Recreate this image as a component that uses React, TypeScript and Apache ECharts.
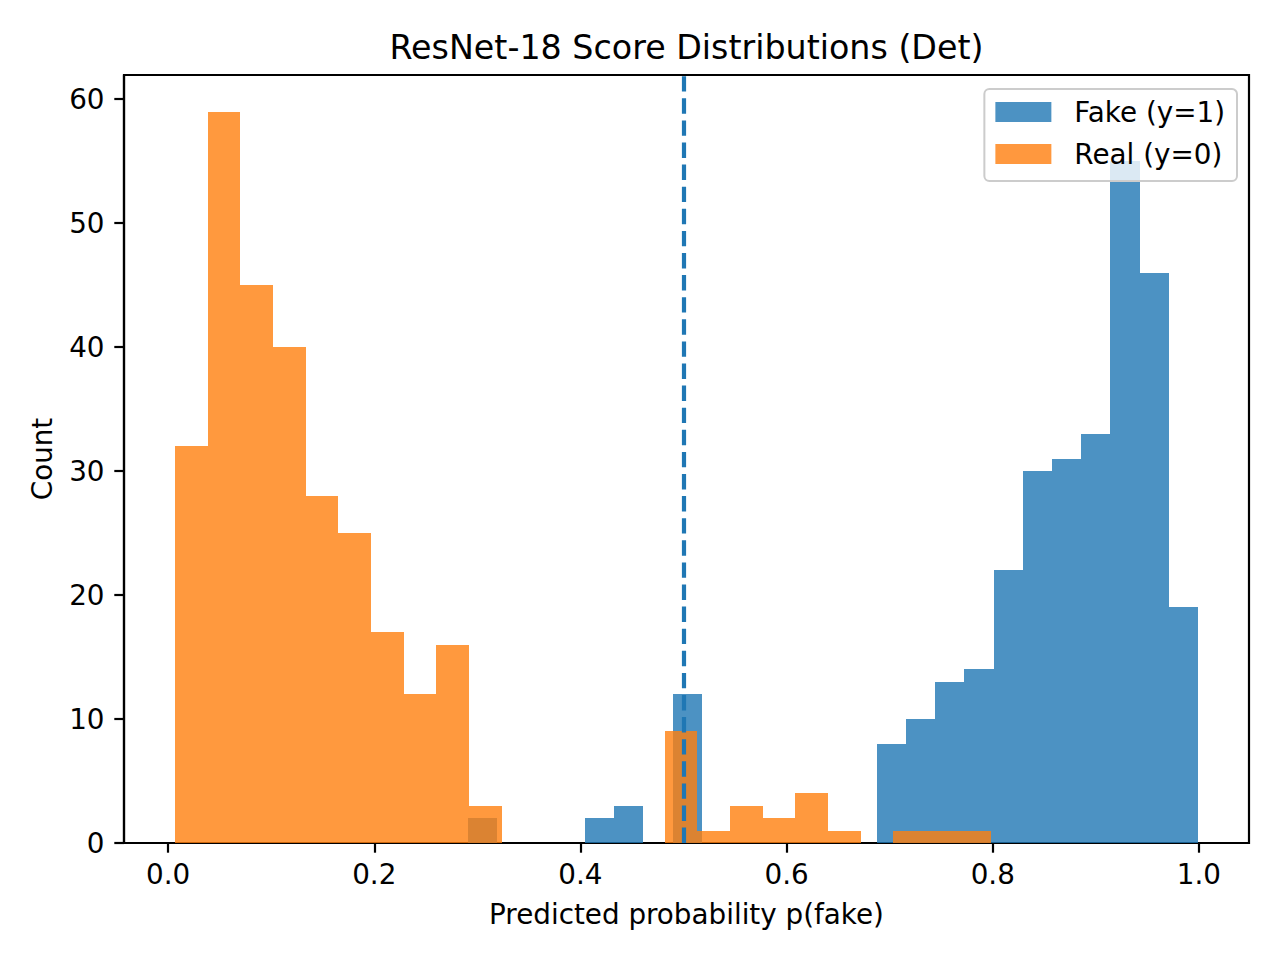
import React, { useEffect, useRef } from "react";
import * as echarts from "echarts";

// ---- data (histogram counts) ----
const fakeCounts = [2, 0, 0, 0, 2, 3, 0, 12, 0, 0, 0, 0, 0, 0, 8, 10, 13, 14, 22, 30, 31, 33, 55, 46, 19];
const realCounts = [32, 59, 45, 40, 28, 25, 17, 12, 16, 3, 0, 0, 0, 0, 0, 9, 1, 3, 2, 4, 1, 0, 1, 1, 1];
const fakeRange = [0.2912, 0.999];
const realRange = [0.0068, 0.7984];
const xTicks = [0, 0.2, 0.4, 0.6, 0.8, 1.0];
const yTicks = [0, 10, 20, 30, 40, 50, 60];
const threshold = 0.5;
const seriesNames = ["Fake (y=1)", "Real (y=0)"];
const xLimits = [-0.0428, 1.0486];
const yLimits = [0, 61.95];

const FONT = "DejaVu Sans";
const FS = 27.8;

function binsOf(counts: number[], range: number[]) {
  const n = counts.length;
  const w = (range[1] - range[0]) / n;
  return counts.map((c, i) => [range[0] + i * w, range[0] + (i + 1) * w, c]);
}

function makeRender(color: string) {
  return (params: any, api: any) => {
    const x0 = api.value(0);
    const x1 = api.value(1);
    const c = api.value(2);
    if (!c) return null;
    const p0 = api.coord([x0, c]);
    const p1 = api.coord([x1, 0]);
    const left = Math.round(p0[0]);
    const right = Math.round(p1[0]);
    const top = Math.round(p0[1]);
    const bottom = p1[1];
    return {
      type: "rect",
      shape: { x: left, y: top, width: right - left, height: bottom - top },
      style: { fill: color, opacity: 0.8 },
    };
  };
}

export default function App() {
  const ref = useRef<HTMLDivElement>(null);
  useEffect(() => {
    if (!ref.current) return;
    const chart = echarts.init(ref.current, undefined, { renderer: "svg" });
    const option: any = {
      animation: false,
      backgroundColor: "#ffffff",
      textStyle: { fontFamily: FONT, color: "#000" },
      title: {
        text: "ResNet-18 Score Distributions (Det)",
        left: 686.5,
        textAlign: "center",
        top: 31,
        padding: 0,
        textStyle: { fontFamily: FONT, fontSize: 33.3, fontWeight: "normal", color: "#000" },
      },
      grid: {
        left: 124,
        right: 31,
        top: 75,
        bottom: 117,
        show: true,
        borderColor: "#000",
        borderWidth: 2.2,
        backgroundColor: "transparent",
      },
      legend: {
        orient: "vertical",
        right: 43,
        top: 89,
        padding: [9, 12, 13, 11],
        itemGap: 14,
        itemWidth: 56,
        itemHeight: 20,
        icon: "rect",
        selectedMode: false,
        backgroundColor: "rgba(255,255,255,0.8)",
        borderColor: "#cccccc",
        borderWidth: 2,
        borderRadius: 5,
        textStyle: {
          fontFamily: FONT,
          fontSize: FS,
          color: "#000",
          lineHeight: 28,
          padding: [0, 0, 0, 18],
        },
        data: [
          { name: seriesNames[0], itemStyle: { color: "#4c92c3", opacity: 1 } },
          { name: seriesNames[1], itemStyle: { color: "#ff983e", opacity: 1 } },
        ],
      },
      xAxis: {
        type: "value",
        min: xLimits[0],
        max: xLimits[1],
        name: "Predicted probability p(fake)",
        nameLocation: "middle",
        nameGap: 57,
        nameTextStyle: { fontFamily: FONT, fontSize: FS, color: "#000" },
        axisLine: { show: true, onZero: false, lineStyle: { color: "#000", width: 2.2 } },
        axisTick: { show: true, length: 9.7, lineStyle: { color: "#000", width: 2.2 }, customValues: xTicks },
        axisLabel: {
          customValues: xTicks,
          formatter: (v: number) => v.toFixed(1),
          fontFamily: FONT,
          fontSize: FS,
          color: "#000",
          margin: 17,
        },
        splitLine: { show: false },
      },
      yAxis: {
        type: "value",
        min: yLimits[0],
        max: yLimits[1],
        name: "Count",
        nameLocation: "middle",
        nameGap: 68,
        nameTextStyle: { fontFamily: FONT, fontSize: FS, color: "#000" },
        axisLine: { show: true, onZero: false, lineStyle: { color: "#000", width: 2.2 } },
        axisTick: { show: true, length: 9.7, lineStyle: { color: "#000", width: 2.2 }, customValues: yTicks },
        axisLabel: {
          customValues: yTicks,
          formatter: (v: number) => String(v),
          fontFamily: FONT,
          fontSize: FS,
          color: "#000",
          margin: 19.5,
        },
        splitLine: { show: false },
      },
      series: [
        {
          name: seriesNames[0],
          type: "custom",
          renderItem: makeRender("#1f77b4"),
          itemStyle: { color: "#4c92c3" },
          encode: { x: [0, 1], y: 2 },
          data: binsOf(fakeCounts, fakeRange),
          z: 2,
        },
        {
          name: seriesNames[1],
          type: "custom",
          renderItem: makeRender("#ff7f0e"),
          itemStyle: { color: "#ff983e" },
          encode: { x: [0, 1], y: 2 },
          data: binsOf(realCounts, realRange),
          z: 3,
          markLine: {
            silent: true,
            symbol: "none",
            label: { show: false },
            lineStyle: { color: "#1f77b4", width: 4.2, type: [15.4, 6.7], opacity: 1 },
            data: [[{ coord: [threshold, yLimits[0]] }, { coord: [threshold, yLimits[1]] }]],
            z: 5,
          },
        },
      ],
    };
    chart.setOption(option);
    return () => chart.dispose();
  }, []);
  return (
    <div
      ref={ref}
      style={{ position: "absolute", left: 0, top: 0, width: 1280, height: 960 }}
    />
  );
}
